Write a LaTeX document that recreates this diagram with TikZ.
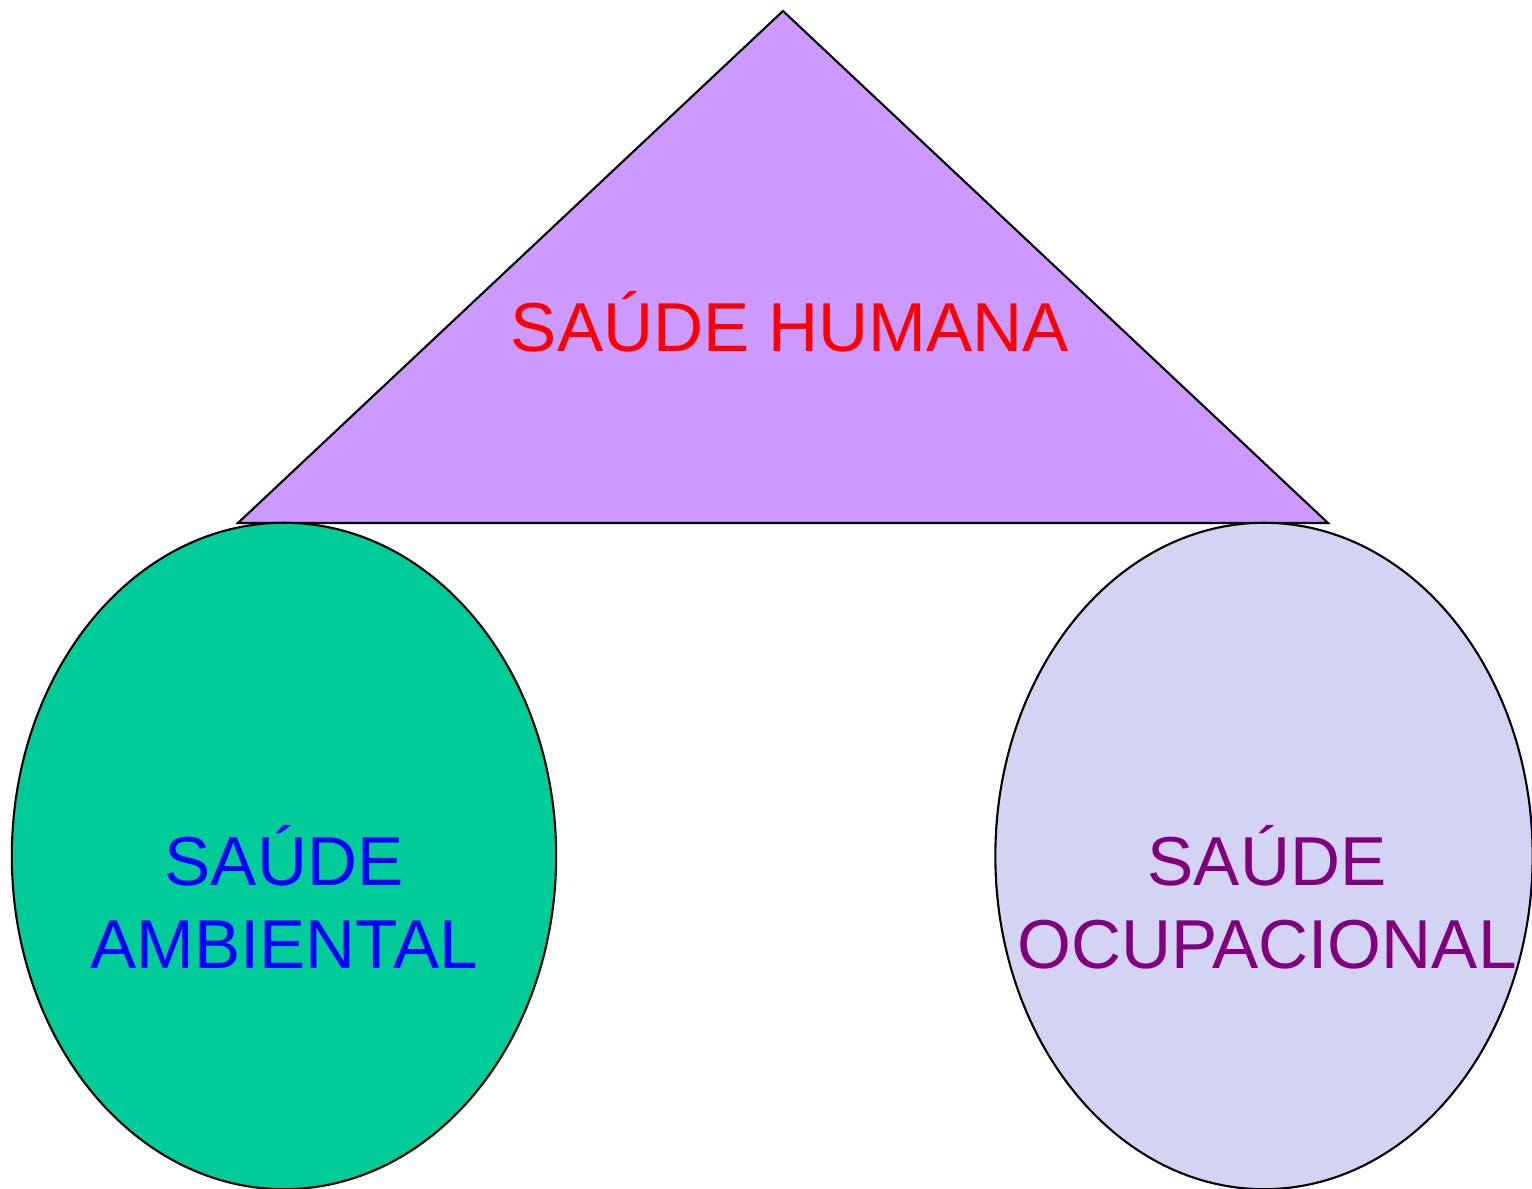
\documentclass[tikz,border=0pt]{standalone}
\usepackage{fontspec}
\setmainfont{Liberation Sans}
\usepackage{tikz}
\usetikzlibrary{shapes}
\definecolor{lilac}{HTML}{CC99FF}
\definecolor{seagreen}{HTML}{00CC99}
\definecolor{lavender}{HTML}{D3D3F3}
\definecolor{plum}{HTML}{800080}
\tikzset{area/.style={ellipse, draw=black, line width=0.6pt, minimum width=5.44cm, minimum height=6.66cm, inner sep=0pt}}
\tikzset{label/.style={font=\fontsize{19.7}{23.6}\selectfont, align=center}}

\begin{document}
\begin{tikzpicture}[x=0.01cm,y=-0.01cm]
  \useasboundingbox (0,0) rectangle (1532,1189);
  % triangle
  \coordinate (top) at (783,11);
  \coordinate (bl) at (238,523);
  \coordinate (br) at (1328,523);
  \draw[fill=lilac, line width=0.6pt] (top) -- (br) -- (bl) -- cycle;
  \node[label, text=red] (humana) at (790,322) {SAÚDE HUMANA};
  % circles
  \node[area, fill=seagreen] (amb) at (284,856) {};
  \node[area, fill=lavender, minimum width=5.37cm] (ocup) at (1264,856) {};
  \node[label, text=blue] (ambtext) at (284,897) {SAÚDE\\AMBIENTAL};
  \node[label, text=plum] (ocuptext) at (1267,897) {SAÚDE\\OCUPACIONAL};
\end{tikzpicture}
\end{document}
